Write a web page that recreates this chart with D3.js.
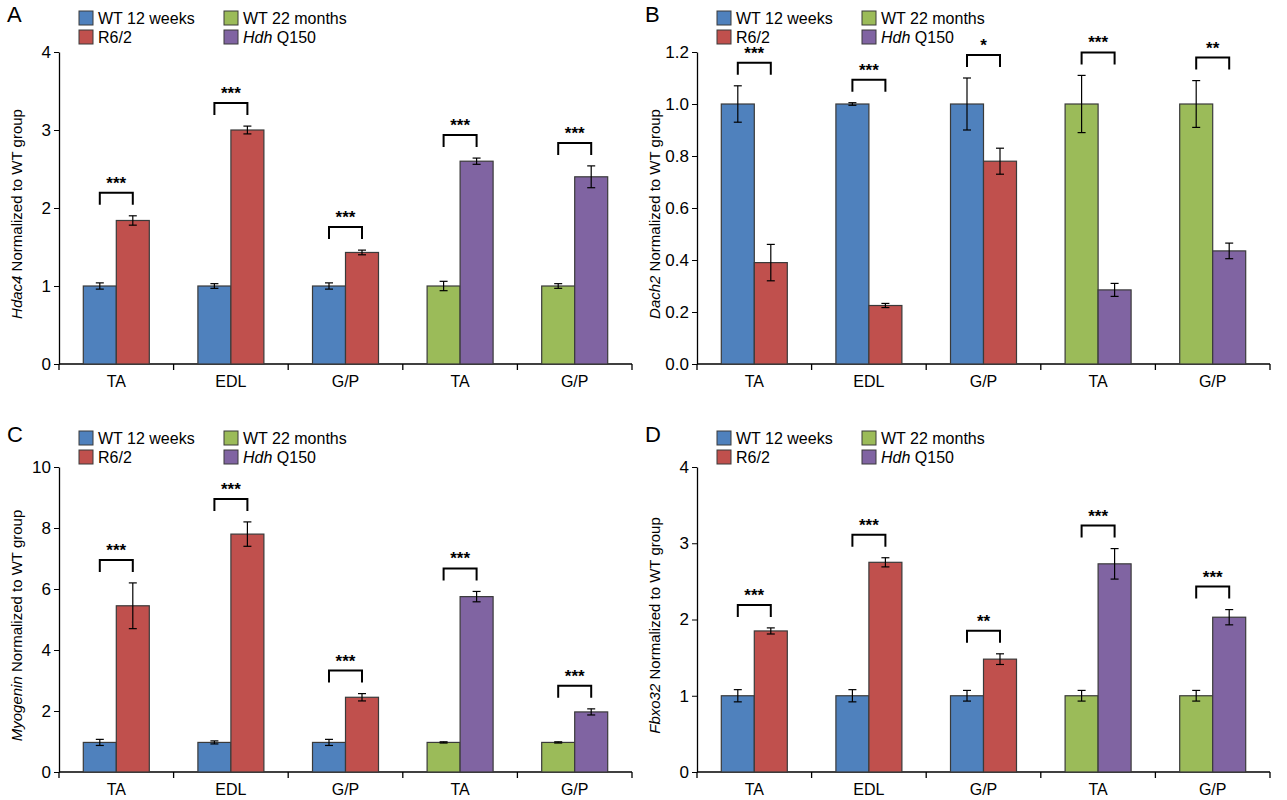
<!DOCTYPE html>
<html><head><meta charset="utf-8">
<script src="https://cdn.jsdelivr.net/npm/d3@7"></script>
<style>
body{margin:0;background:#fff;font-family:"Liberation Sans",Arial,sans-serif;}
text{font-family:"Liberation Sans",Arial,sans-serif;}
</style></head>
<body>
<svg id="chart" width="1287" height="800"></svg>
<script>
var categories = ["TA", "EDL", "G/P", "TA", "G/P"];
var isOld = [false, false, false, true, true];

var hdac4Wt = [1.0, 1.0, 1.0, 1.0, 1.0];
var hdac4WtErr = [0.04, 0.03, 0.04, 0.06, 0.03];
var hdac4Hd = [1.84, 3.0, 1.43, 2.6, 2.4];
var hdac4HdErr = [0.06, 0.05, 0.03, 0.04, 0.14];
var hdac4Sig = ["***", "***", "***", "***", "***"];

var dach2Wt = [1.0, 1.0, 1.0, 1.0, 1.0];
var dach2WtErr = [0.07, 0.005, 0.1, 0.11, 0.09];
var dach2Hd = [0.39, 0.225, 0.78, 0.285, 0.435];
var dach2HdErr = [0.07, 0.008, 0.05, 0.025, 0.03];
var dach2Sig = ["***", "***", "*", "***", "**"];

var myogWt = [0.97, 0.97, 0.97, 0.97, 0.97];
var myogWtErr = [0.1, 0.05, 0.1, 0.02, 0.02];
var myogHd = [5.45, 7.8, 2.45, 5.75, 1.97];
var myogHdErr = [0.75, 0.4, 0.12, 0.17, 0.1];
var myogSig = ["***", "***", "***", "***", "***"];

var fbxWt = [1.0, 1.0, 1.0, 1.0, 1.0];
var fbxWtErr = [0.08, 0.08, 0.07, 0.07, 0.07];
var fbxHd = [1.85, 2.75, 1.48, 2.73, 2.03];
var fbxHdErr = [0.04, 0.06, 0.07, 0.2, 0.1];
var fbxSig = ["***", "***", "**", "***", "***"];

var colors = {wtYoung: "#4f81bd", r62: "#c0504d", wtOld: "#9bbb59", q150: "#8064a2"};

var svg = d3.select("#chart");

function drawPanel(p) {
    var g = svg.append("g");
    var x = d3.scaleBand().domain(d3.range(categories.length)).range([p.left, p.left + 573]).paddingInner(0).paddingOuter(0);
    var y = d3.scaleLinear().domain([0, p.max]).range([p.bottom, p.top]);
    var bw = 33;

    // y axis
    var ya = g.append("g").attr("transform", "translate(" + p.left + ",0)")
        .call(d3.axisLeft(y).tickValues(p.ticks).tickFormat(p.fmt).tickSize(5).tickSizeOuter(0));
    ya.select(".domain").attr("stroke", "#000").attr("stroke-width", 1.3);
    ya.selectAll("text").attr("font-size", 17).attr("fill", "#000");
    // x axis
    var xa = g.append("g").attr("transform", "translate(0," + p.bottom + ")");
    xa.append("line").attr("x1", p.left).attr("x2", p.left + 573).attr("stroke", "#000").attr("stroke-width", 1.3);
    xa.selectAll("line.t").data(d3.range(categories.length + 1)).enter().append("line")
        .attr("x1", function(i) { return i < categories.length ? x(i) : x(i - 1) + x.bandwidth(); })
        .attr("x2", function(i) { return i < categories.length ? x(i) : x(i - 1) + x.bandwidth(); })
        .attr("y1", 0).attr("y2", 6).attr("stroke", "#000").attr("stroke-width", 1.3);
    xa.selectAll("text").data(categories).enter().append("text")
        .attr("x", function(d, i) { return x(i) + x.bandwidth() / 2; })
        .attr("y", 23).attr("text-anchor", "middle").attr("font-size", 16).text(function(d) { return d; });

    categories.forEach(function(c, i) {
        var cx = x(i) + x.bandwidth() / 2;
        var bars = [
            {x: cx - bw, v: p.wt[i], e: p.wtErr[i], col: isOld[i] ? colors.wtOld : colors.wtYoung},
            {x: cx, v: p.hd[i], e: p.hdErr[i], col: isOld[i] ? colors.q150 : colors.r62}
        ];
        bars.forEach(function(b) {
            g.append("rect").attr("x", b.x).attr("width", bw).attr("y", y(b.v)).attr("height", y(0) - y(b.v))
                .attr("fill", b.col).attr("stroke", "#3a3a3a").attr("stroke-width", 1.2);
            var mx = b.x + bw / 2;
            var y1 = y(b.v + b.e), y2 = y(b.v - b.e);
            g.append("line").attr("x1", mx).attr("x2", mx).attr("y1", y1).attr("y2", y2).attr("stroke", "#000").attr("stroke-width", 1.2);
            [y1, y2].forEach(function(yy) {
                g.append("line").attr("x1", mx - 4).attr("x2", mx + 4).attr("y1", yy).attr("y2", yy).attr("stroke", "#000").attr("stroke-width", 1.2);
            });
        });
        var topY = Math.min(y(p.hd[i] + p.hdErr[i]), y(p.wt[i] + p.wtErr[i]));
        var low = topY - 11, high = topY - 23;
        var lx = cx - bw / 2, rx = cx + bw / 2;
        g.append("path").attr("d", "M" + lx + "," + low + "V" + high + "H" + rx + "V" + low)
            .attr("fill", "none").attr("stroke", "#000").attr("stroke-width", 2);
        g.append("text").attr("x", cx).attr("y", high - 4).attr("text-anchor", "middle")
            .attr("font-size", 17).attr("font-weight", "bold").text(p.sig[i]);
    });

    // y label
    var yl = g.append("text").attr("transform", "translate(" + (p.left - 37) + "," + ((p.top + p.bottom) / 2 + 6) + ") rotate(-90)")
        .attr("text-anchor", "middle").attr("font-size", 15);
    yl.append("tspan").attr("font-style", "italic").text(p.gene);
    yl.append("tspan").text(" Normalized to WT group");

    // panel letter
    g.append("text").attr("x", p.left - 52).attr("y", p.legY - 2).attr("font-size", 22).text(p.letter);

    // legend
    var leg = [
        {t: "WT 12 weeks", c: colors.wtYoung, dx: 0, dy: 0},
        {t: "R6/2", c: colors.r62, dx: 0, dy: 19},
        {t: "WT 22 months", c: colors.wtOld, dx: 145, dy: 0},
        {t: "Hdh", t2: " Q150", c: colors.q150, dx: 145, dy: 19}
    ];
    leg.forEach(function(l) {
        var lx0 = p.left + 20 + l.dx, ly0 = p.legY + l.dy;
        g.append("rect").attr("x", lx0).attr("y", ly0 - 13).attr("width", 14).attr("height", 14)
            .attr("fill", l.c).attr("stroke", "#3a3a3a").attr("stroke-width", 1);
        var t = g.append("text").attr("x", lx0 + 19).attr("y", ly0).attr("font-size", 16);
        if (l.t2) {
            t.append("tspan").attr("font-style", "italic").text(l.t);
            t.append("tspan").text(l.t2);
        } else t.text(l.t);
    });
}

drawPanel({letter: "A", gene: "Hdac4", left: 59, top: 52, bottom: 364, max: 4, ticks: [0, 1, 2, 3, 4], fmt: d3.format("d"),
    wt: hdac4Wt, wtErr: hdac4WtErr, hd: hdac4Hd, hdErr: hdac4HdErr, sig: hdac4Sig, legY: 24});
drawPanel({letter: "B", gene: "Dach2", left: 697, top: 52, bottom: 364, max: 1.2, ticks: [0, 0.2, 0.4, 0.6, 0.8, 1.0, 1.2], fmt: d3.format(".1f"),
    wt: dach2Wt, wtErr: dach2WtErr, hd: dach2Hd, hdErr: dach2HdErr, sig: dach2Sig, legY: 24});
drawPanel({letter: "C", gene: "Myogenin", left: 59, top: 467, bottom: 772, max: 10, ticks: [0, 2, 4, 6, 8, 10], fmt: d3.format("d"),
    wt: myogWt, wtErr: myogWtErr, hd: myogHd, hdErr: myogHdErr, sig: myogSig, legY: 444});
drawPanel({letter: "D", gene: "Fbxo32", left: 697, top: 467, bottom: 772, max: 4, ticks: [0, 1, 2, 3, 4], fmt: d3.format("d"),
    wt: fbxWt, wtErr: fbxWtErr, hd: fbxHd, hdErr: fbxHdErr, sig: fbxSig, legY: 444});
</script>
</body></html>
